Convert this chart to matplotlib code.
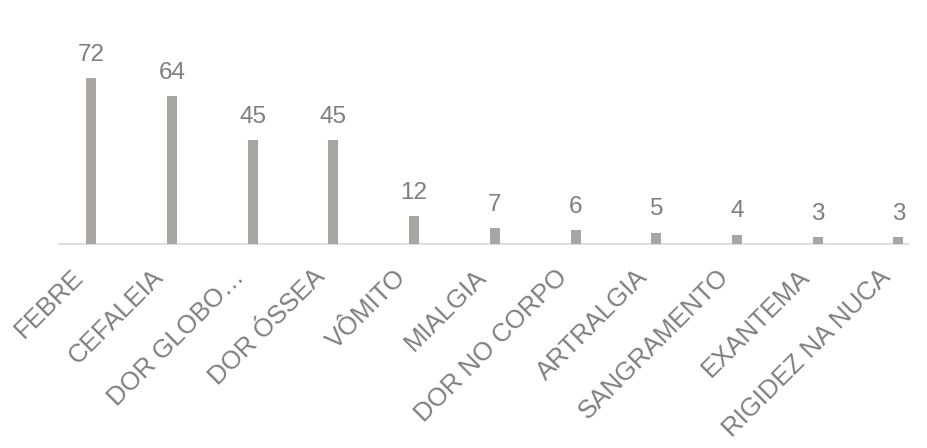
import matplotlib
matplotlib.use('Agg')
import matplotlib.pyplot as plt
import matplotlib.transforms as mtransforms
import numpy as np

plt.rcParams['font.family'] = ['Liberation Sans', 'DejaVu Sans']

sintomas = ['FEBRE', 'CEFALEIA', 'DOR GLOBO…', 'DOR ÓSSEA', 'VÔMITO', 'MIALGIA',
            'DOR NO CORPO', 'ARTRALGIA', 'SANGRAMENTO', 'EXANTEMA', 'RIGIDEZ NA NUCA']
casos = [72, 64, 45, 45, 12, 7, 6, 5, 4, 3, 3]

bar_color = '#A9A5A5'
text_color = '#7F7F7F'

fig = plt.figure(figsize=(9.27, 4.48), dpi=100)
ax = fig.add_axes([0.0636, 0.455, 0.916, 0.412])

x = np.arange(len(sintomas))
bars = ax.bar(x, casos, width=0.124, color=bar_color, zorder=3)

for xi, v in zip(x, casos):
    ax.annotate(str(v), (xi, v), xytext=(0, 9), textcoords='offset points',
                ha='center', va='bottom', fontsize=17.5, color=text_color)

ax.set_xlim(-0.4, 10.12)
ax.set_ylim(0, 80)

for side in ['top', 'right', 'left']:
    ax.spines[side].set_visible(False)
ax.spines['bottom'].set_color('#D9D9D9')
ax.spines['bottom'].set_linewidth(1.2)
ax.set_yticks([])

ax.set_xticks(x)
ax.set_xticklabels(sintomas, rotation=45, ha='right', va='center',
                   rotation_mode='anchor', fontsize=18.5, color=text_color)
ax.tick_params(axis='x', length=0, pad=21)

offset = mtransforms.ScaledTranslation(-12 / 100, 0, fig.dpi_scale_trans)
for lbl in ax.get_xticklabels():
    lbl.set_transform(lbl.get_transform() + offset)

fig.savefig('out.png', dpi=100)
